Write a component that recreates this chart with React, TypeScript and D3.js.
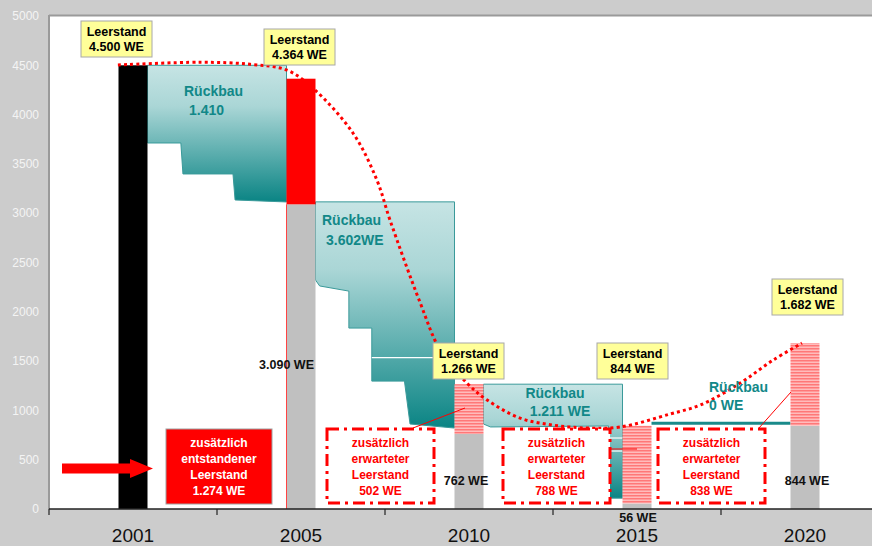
import { FC } from 'react';
import * as d3 from 'd3';

// categories and values
const categories = ['2001', '2005', '2010', '2015', '2020'];
const yTicks = [0, 500, 1000, 1500, 2000, 2500, 3000, 3500, 4000, 4500, 5000];
const leerstand = [4500, 4364, 1266, 844, 1682];
const baseLevel = [0, 3090, 762, 56, 844];
const leerstandLabels = ['4.500 WE', '4.364 WE', '1.266 WE', '844 WE', '1.682 WE'];

// Rückbau blocks: top value and stepped bottom outline [fraction of gap, value]
const rb1Top = 4500;
const rb1Steps: [number, number][] = [[0, 3712], [0.24, 3712], [0.255, 3398], [0.615, 3398], [0.63, 3134], [1, 3114]];
const rb2Top = 3115;
const rb2Steps: [number, number][] = [[0, 2322], [0.03, 2262], [0.24, 2210], [0.24, 1835], [0.405, 1835], [0.405, 1297], [0.64, 1297], [0.68, 862], [1, 821]];
const rb3Top = 1266;
const rb3Steps: [number, number][] = [[0, 862], [0.05, 832], [0.9, 842], [0.9, 110], [1, 110]];
const rb4Level = 870;

// trend curve (dotted)
const trendYears = [2000.64, 2002.6, 2003.79, 2004.67, 2005.36, 2006.55, 2007.26, 2007.65, 2008.54, 2009.14, 2009.94, 2010.54, 2011.52, 2012.5, 2013.51, 2014.49, 2015.98, 2016.88, 2018.07, 2019.05, 2019.91];
const trendValues = [4503, 4531, 4510, 4450, 4267, 3811, 3335, 2929, 2098, 1612, 1277, 1105, 922, 851, 821, 831, 963, 1054, 1277, 1510, 1682];
const categoryYears = [2001, 2005, 2010, 2015, 2020];

const W = 872;
const H = 546;
const FONT = 'Liberation Sans, Arial, sans-serif';
const TEAL = '#118888';

const App: FC = () => {
  const y = d3.scaleLinear().domain([0, 5000]).range([509, 16]);
  const x = d3.scaleBand().domain(categories).range([49, 889]);
  const bw = x.bandwidth();
  const barW = 29;
  const cx = (i: number) => (x(categories[i]) ?? 0) + bw / 2;
  const xYear = d3.scaleLinear().domain(categoryYears).range(categories.map((_, i) => cx(i)));
  const gx = (i: number, f: number) => {
    const a = cx(i) + barW / 2;
    const b = cx(i + 1) - barW / 2;
    return a + f * (b - a);
  };

  const line = d3.line<[number, number]>();
  const block = (i: number, top: number, steps: [number, number][]) => {
    const pts: [number, number][] = [[gx(i, 0), y(top)], [gx(i, 1), y(top)]];
    [...steps].reverse().forEach(([f, v]) => pts.push([gx(i, f), y(v)]));
    return line(pts) + 'Z';
  };

  const trend = d3.line<number>()
    .x((_, i) => xYear(trendYears[i]))
    .y(d => y(d))
    .curve(d3.curveCatmullRom.alpha(0.5))(trendValues);

  const boxes = [
    { i: 0, x0: 81, y0: 21 },
    { i: 1, x0: 264, y0: 29 },
    { i: 2, x0: 433, y0: 343 },
    { i: 3, x0: 597, y0: 343 },
    { i: 4, x0: 772, y0: 279 },
  ];

  const dashBoxes = [
    { x0: 327, value: '502 WE' },
    { x0: 503, value: '788 WE' },
    { x0: 658, value: '838 WE' },
  ];

  return (
    <svg width={W} height={H} style={{ position: 'absolute', left: 0, top: 0 }} fontFamily={FONT}>
      <defs>
        <linearGradient id="teal" x1="0" y1="0" x2="0" y2="1">
          <stop offset="0" stopColor="#c6e4e4" />
          <stop offset="0.3" stopColor="#aad6d6" />
          <stop offset="1" stopColor="#0a8484" />
        </linearGradient>
        <pattern id="stripes" width="4" height="3" patternUnits="userSpaceOnUse">
          <rect width="4" height="3" fill="#ffbcbc" />
          <rect width="4" height="1.5" fill="#ff7878" />
        </pattern>
      </defs>
      <rect width={W} height={H} fill="#cccccc" />
      <rect x={49} y={16} width={W - 49} height={493} fill="#ffffff" />
      <line x1={49} y1={15.5} x2={W} y2={15.5} stroke="#9a9a9a" strokeWidth={2} />
      <line x1={49} y1={15} x2={49} y2={509} stroke="#9a9a9a" strokeWidth={2} />

      {/* y axis labels */}
      {yTicks.map(t => (
        <text key={t} x={39} y={y(t)} dy="0.35em" textAnchor="end" fontSize={12} fill="#f4f4f4">{t}</text>
      ))}

      {/* Rückbau blocks */}
      <path d={block(0, rb1Top, rb1Steps)} fill="url(#teal)" stroke="#3a9a9a" strokeWidth={1} />
      <path d={block(1, rb2Top, rb2Steps)} fill="url(#teal)" stroke="#3a9a9a" strokeWidth={1} />
      <path d={block(2, rb3Top, rb3Steps)} fill="url(#teal)" stroke="#3a9a9a" strokeWidth={1} />
      <line x1={gx(1, 0.405)} x2={gx(1, 1)} y1={y(1535)} y2={y(1535)} stroke="#ffffff" strokeWidth={1.2} />
      <line x1={gx(2, 0.9)} x2={gx(2, 1)} y1={y(720)} y2={y(720)} stroke="#ffffff" strokeWidth={1.2} />
      <line x1={gx(2, 0.9)} x2={gx(2, 1)} y1={y(588)} y2={y(588)} stroke="#ffffff" strokeWidth={1.2} />
      <line x1={gx(3, 0)} x2={gx(3, 1)} y1={y(rb4Level)} y2={y(rb4Level)} stroke="#1a8a8a" strokeWidth={3} />

      {/* bars */}
      {categories.map((c, i) => {
        const x0 = cx(i) - barW / 2;
        if (i === 0) {
          return <rect key={c} x={x0} y={y(leerstand[i])} width={barW} height={y(0) - y(leerstand[i])} fill="#000000" />;
        }
        return (
          <g key={c}>
            <rect x={x0} y={y(baseLevel[i])} width={barW} height={y(0) - y(baseLevel[i])} fill="#c0c0c0" />
            <rect x={x0} y={y(leerstand[i])} width={barW} height={y(baseLevel[i]) - y(leerstand[i])}
              fill={i === 1 ? '#ff0000' : 'url(#stripes)'} />
          </g>
        );
      })}
      <line x1={cx(1) - barW / 2} x2={cx(1) - barW / 2} y1={y(baseLevel[1])} y2={y(0)} stroke="#ff4444" strokeWidth={1} />

      {/* trend */}
      <path d={trend ?? ''} fill="none" stroke="#ff0000" strokeWidth={3} strokeDasharray="3 3.2" />

      {/* leader lines */}
      <line x1={413} y1={428} x2={465} y2={408} stroke="#ff0000" strokeWidth={1} />
      <line x1={610} y1={449} x2={637} y2={449} stroke="#ff0000" strokeWidth={1} />
      <line x1={759} y1={428} x2={791} y2={392} stroke="#ff0000" strokeWidth={1} />

      {/* axis */}
      <line x1={49} x2={W} y1={509} y2={509} stroke="#222222" strokeWidth={1.5} />
      {categories.map((c, i) => (
        <g key={c}>
          <line x1={x(c)} x2={x(c)} y1={509} y2={515} stroke="#222222" strokeWidth={1.2} />
          <text x={cx(i)} y={542} textAnchor="middle" fontSize={19} fill="#111111">{c}</text>
        </g>
      ))}

      {/* value labels */}
      <g fontSize={12.5} fontWeight="bold" fill="#111111">
        <text x={314} y={365} dy="0.35em" textAnchor="end">3.090 WE</text>
        <text x={466} y={481} dy="0.35em" textAnchor="middle">762 WE</text>
        <text x={638} y={518} dy="0.35em" textAnchor="middle">56 WE</text>
        <text x={807} y={481} dy="0.35em" textAnchor="middle">844 WE</text>
      </g>

      {/* Rückbau labels */}
      <g fontSize={14} fontWeight="bold" fill={TEAL}>
        <text x={184} y={91} dy="0.35em">Rückbau</text>
        <text x={189} y={110} dy="0.35em">1.410</text>
        <text x={322} y={220} dy="0.35em">Rückbau</text>
        <text x={326} y={240} dy="0.35em">3.602WE</text>
        <text x={555} y={393} dy="0.35em" textAnchor="middle">Rückbau</text>
        <text x={560} y={411} dy="0.35em" textAnchor="middle">1.211 WE</text>
        <text x={709} y={387} dy="0.35em">Rückbau</text>
        <text x={709} y={405} dy="0.35em">0 WE</text>
      </g>

      {/* Leerstand boxes */}
      {boxes.map(b => (
        <g key={b.i}>
          <rect x={b.x0} y={b.y0} width={71} height={36} fill="#ffff99" stroke="#a8a8a8" strokeWidth={1} />
          <text x={b.x0 + 35.5} y={b.y0 + 11} dy="0.35em" textAnchor="middle" fontSize={12.5} fontWeight="bold" fill="#000000">Leerstand</text>
          <text x={b.x0 + 35.5} y={b.y0 + 26} dy="0.35em" textAnchor="middle" fontSize={12.5} fontWeight="bold" fill="#000000">{leerstandLabels[b.i]}</text>
        </g>
      ))}

      {/* arrow */}
      <path d="M62,463.5 L130,463.5 L130,459 L153,468.5 L130,478 L130,473.5 L62,473.5 Z" fill="#ff0000" />

      {/* red box */}
      <rect x={166} y={429} width={106} height={75} fill="#ff0000" stroke="#a0a0a0" strokeWidth={1} />
      <g fontSize={12} fontWeight="bold" fill="#ffffff" textAnchor="middle">
        <text x={219} y={443} dy="0.35em">zusätzlich</text>
        <text x={219} y={459} dy="0.35em">entstandener</text>
        <text x={219} y={475} dy="0.35em">Leerstand</text>
        <text x={219} y={491} dy="0.35em">1.274 WE</text>
      </g>

      {/* dashed boxes */}
      {dashBoxes.map(b => (
        <g key={b.x0}>
          <rect x={b.x0} y={429} width={107} height={74} fill="#ffffff" stroke="#ff0000" strokeWidth={3} strokeDasharray="12 5 3 5" />
          <g fontSize={12} fontWeight="bold" fill="#ff0000" textAnchor="middle">
            <text x={b.x0 + 53.5} y={443} dy="0.35em">zusätzlich</text>
            <text x={b.x0 + 53.5} y={459} dy="0.35em">erwarteter</text>
            <text x={b.x0 + 53.5} y={475} dy="0.35em">Leerstand</text>
            <text x={b.x0 + 53.5} y={491} dy="0.35em">{b.value}</text>
          </g>
        </g>
      ))}
    </svg>
  );
};

export default App;
